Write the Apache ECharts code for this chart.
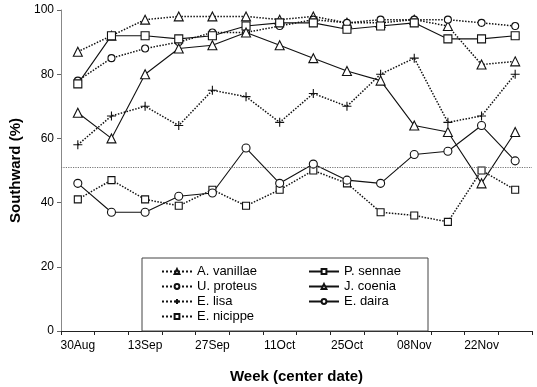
<!DOCTYPE html>
<html>
<head>
<meta charset="utf-8">
<script src="https://cdn.jsdelivr.net/npm/echarts@6/dist/echarts.min.js"></script>
<style>
  html, body { margin: 0; padding: 0; background: #fff; }
  #main { width: 537px; height: 387px; }
</style>
</head>
<body>
<div id="main"></div>
<script>
// weekly center dates
var weeks = ['30Aug', '06Sep', '13Sep', '20Sep', '27Sep', '04Oct', '11Oct',
             '18Oct', '25Oct', '01Nov', '08Nov', '15Nov', '22Nov', '29Nov'];

// percent southward per species
var aVanillae = [87, 92, 97, 98, 98, 98, 97, 98, 96, 96, 97, 95, 83, 84];
var uProteus  = [78, 85, 88, 90, 93, 93, 95, 97, 96, 97, 97, 97, 96, 95];
var eLisa     = [58, 67, 70, 64, 75, 73, 65, 74, 70, 80, 85, 65, 67, 80];
var eNicippe  = [41, 47, 41, 39, 44, 39, 44, 50, 46, 37, 36, 34, 50, 44];
var pSennae   = [77, 92, 92, 91, 92, 95, 96, 96, 94, 95, 96, 91, 91, 92];
var jCoenia   = [68, 60, 80, 88, 89, 93, 89, 85, 81, 78, 64, 62, 46, 62];
var eDaira    = [46, 37, 37, 42, 43, 57, 46, 52, 47, 46, 55, 56, 64, 53];

var refLine = 51;

var plusIcon = 'path://M4,0L4,8M0,4L8,4';
var ink = '#111';
var font = '"Liberation Sans", Arial, sans-serif';

function mk(name, data, symbol, size, dotted) {
  return {
    name: name,
    type: 'line',
    data: data,
    symbol: symbol,
    symbolSize: size,
    showAllSymbol: true,
    animation: false,
    color: ink,
    itemStyle: { color: '#fff', borderColor: ink, borderWidth: 1.1 },
    lineStyle: { color: ink, width: dotted ? 1.5 : 1.1, type: dotted ? 'dotted' : 'solid' },
    z: 3
  };
}

var myChart = echarts.init(document.getElementById('main'));
var option = {
  backgroundColor: '#fff',
  textStyle: { fontFamily: font },
  grid: { left: 61, right: 5, top: 10, bottom: 56, outerBoundsMode: 'none' },
  xAxis: {
    type: 'category',
    data: weeks,
    name: 'Week (center date)',
    nameLocation: 'middle',
    nameGap: 38,
    nameTextStyle: { fontSize: 15, fontWeight: 'bold', color: '#000' },
    axisLine: { lineStyle: { color: '#222', width: 1 } },
    axisTick: { show: true, interval: 0, length: 4, lineStyle: { color: '#222' } },
    axisLabel: { interval: 1, fontSize: 12, color: '#000', margin: 9 },
    splitLine: { show: false }
  },
  yAxis: {
    type: 'value',
    min: 0,
    max: 100,
    interval: 20,
    name: 'Southward (%)',
    nameLocation: 'middle',
    nameGap: 31,
    nameRotate: 90,
    nameTextStyle: { fontSize: 15, fontWeight: 'bold', color: '#000' },
    axisLine: { show: true, lineStyle: { color: '#888', width: 1 } },
    axisTick: { show: true, length: 4, lineStyle: { color: '#666' } },
    axisLabel: { fontSize: 12, color: '#000', margin: 7 },
    splitLine: { show: false }
  },
  graphic: [{
    type: 'rect',
    shape: { x: 142, y: 258, width: 286, height: 73 },
    style: { fill: '#fff', stroke: '#444', lineWidth: 1 },
    z: 1
  }],
  legend: [{
    orient: 'vertical',
    left: 156,
    top: 260,
    itemWidth: 30,
    itemHeight: 6,
    itemGap: 2,
    textStyle: { fontSize: 13, color: '#000', fontFamily: font },
    data: ['A. vanillae', 'U. proteus', 'E. lisa', 'E. nicippe']
  }, {
    orient: 'vertical',
    left: 303,
    top: 260,
    itemWidth: 30,
    itemHeight: 6,
    itemGap: 2,
    textStyle: { fontSize: 13, color: '#000', fontFamily: font },
    data: ['P. sennae', 'J. coenia', 'E. daira']
  }],
  series: [
    mk('A. vanillae', aVanillae, 'triangle', 9, true),
    mk('U. proteus', uProteus, 'circle', 7, true),
    mk('E. lisa', eLisa, plusIcon, 9, true),
    mk('E. nicippe', eNicippe, 'rect', 7, true),
    mk('P. sennae', pSennae, 'rect', 8, false),
    mk('J. coenia', jCoenia, 'triangle', 9, false),
    (function () {
      var s = mk('E. daira', eDaira, 'circle', 8, false);
      s.markLine = {
        silent: true,
        symbol: 'none',
        label: { show: false },
        lineStyle: { color: '#777', type: 'dotted', width: 1.2 },
        data: [{ yAxis: refLine }]
      };
      return s;
    })()
  ]
};
myChart.setOption(option);
</script>
</body>
</html>
